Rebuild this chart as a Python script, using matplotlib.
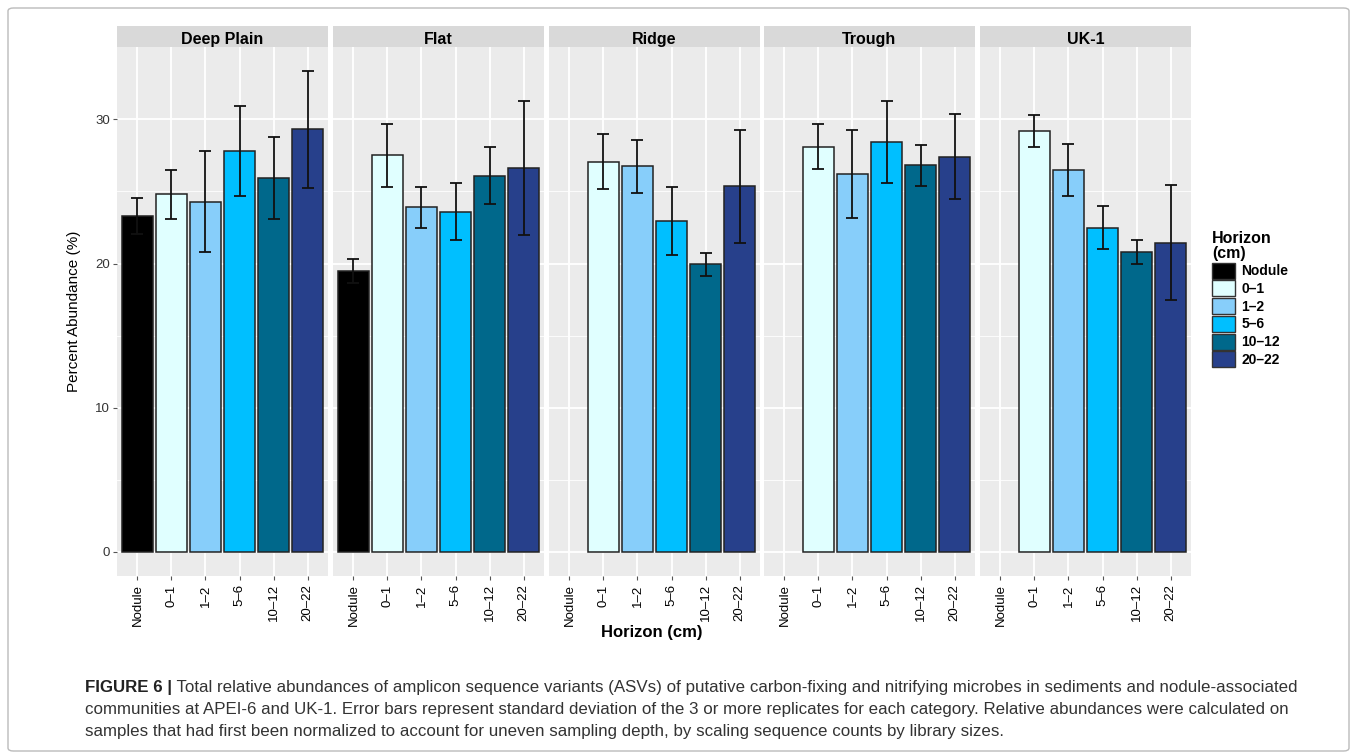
import matplotlib

matplotlib.use('Agg')

import matplotlib.pyplot as plt
import numpy as np
from matplotlib.patches import Patch, FancyBboxPatch
from matplotlib import font_manager

sites = ['Deep Plain', 'Flat', 'Ridge', 'Trough', 'UK-1']
horizons = ['Nodule', '0\u20131', '1\u20132', '5\u20136', '10\u201312', '20\u201322']
colors = ['#000000', '#E0FFFF', '#87CEFA', '#00BFFF', '#00688B', '#27408B']

# mean percent abundance per site, one value per horizon (nan = no sample)
means = {
    'Deep Plain': [23.3, 24.8, 24.3, 27.8, 25.95, 29.3],
    'Flat':       [19.5, 27.5, 23.9, 23.6, 26.1, 26.65],
    'Ridge':      [np.nan, 27.05, 26.75, 22.95, 19.95, 25.35],
    'Trough':     [np.nan, 28.1, 26.2, 28.45, 26.8, 27.4],
    'UK-1':       [np.nan, 29.2, 26.5, 22.5, 20.8, 21.45],
}
sds = {
    'Deep Plain': [1.25, 1.7, 3.5, 3.1, 2.85, 4.05],
    'Flat':       [0.85, 2.2, 1.4, 2.0, 2.0, 4.65],
    'Ridge':      [np.nan, 1.9, 1.85, 2.35, 0.8, 3.9],
    'Trough':     [np.nan, 1.55, 3.05, 2.85, 1.4, 2.95],
    'UK-1':       [np.nan, 1.1, 1.8, 1.47, 0.85, 4.0],
}

available = {f.name for f in font_manager.fontManager.ttflist}
sans = 'Liberation Sans' if 'Liberation Sans' in available else 'DejaVu Sans'
narrow = 'Liberation Sans Narrow' if 'Liberation Sans Narrow' in available else sans
plt.rcParams['font.family'] = [sans, 'DejaVu Sans']

W, H = 1357, 754
fig = plt.figure(figsize=(W / 100, H / 100), dpi=100)


def fx(px):
    return px / W


def fy(py):
    return 1 - py / H


# outer frame
fig.patches.append(FancyBboxPatch((fx(8), fy(751)), fx(1341), fy(8) - fy(751),
                                  boxstyle='round,pad=0,rounding_size=0.004',
                                  transform=fig.transFigure, fill=False,
                                  edgecolor='#BBBBBB', linewidth=1.0))

ymax = max(np.nanmax(np.array(means[s]) + np.array(sds[s])) for s in sites)
ylim = (-0.05 * ymax, 1.05 * ymax)

panel_left = [117, 333, 549, 764, 980]
panel_w = 211
top, bottom = 47, 576
x = np.arange(len(horizons))
col_arr = np.array(colors)

for i, site in enumerate(sites):
    ax = fig.add_axes([fx(panel_left[i]), fy(bottom), fx(panel_w), fy(top) - fy(bottom)])
    ax.set_facecolor('#EBEBEB')
    for sp in ax.spines.values():
        sp.set_visible(False)
    ax.set_xlim(-0.6, len(horizons) - 0.4)
    ax.set_ylim(*ylim)
    ax.set_yticks([0, 10, 20, 30])
    ax.set_yticks([5, 15, 25], minor=True)
    ax.grid(True, which='major', color='white', linewidth=1.3)
    ax.grid(True, which='minor', axis='y', color='white', linewidth=0.6)
    ax.set_axisbelow(True)
    m = np.array(means[site])
    s = np.array(sds[site])
    ok = ~np.isnan(m)
    ax.bar(x[ok], m[ok], width=0.9, color=col_arr[ok], edgecolor='#222222', linewidth=1.1)
    ax.errorbar(x[ok], m[ok], yerr=s[ok], fmt='none', ecolor='#111111', elinewidth=1.3,
                capsize=4, capthick=1.3)
    ax.set_xticks(x)
    ax.set_xticklabels(horizons, rotation=90, fontsize=9.5, fontfamily=narrow)
    ax.tick_params(axis='x', length=3, color='#555555', pad=3)
    ax.tick_params(axis='y', which='minor', length=0)
    if i == 0:
        ax.tick_params(axis='y', length=3, color='#555555', labelsize=9.5, pad=2,
                       labelcolor='#333333')
        ax.set_ylabel('Percent Abundance (%)', fontsize=11,
                      fontfamily=narrow, labelpad=10)
    else:
        ax.tick_params(axis='y', length=0, labelleft=False)

    sax = fig.add_axes([fx(panel_left[i]), fy(top), fx(panel_w), fy(26) - fy(top)])
    sax.set_facecolor('#D9D9D9')
    sax.set_xticks([])
    sax.set_yticks([])
    for sp in sax.spines.values():
        sp.set_visible(False)
    sax.text(0.5, 0.42, site, ha='center', va='center_baseline', fontsize=11.5,
             fontweight='bold', transform=sax.transAxes)

fig.text(fx(652), fy(632), 'Horizon (cm)', ha='center', va='center',
         fontsize=12, fontweight='bold')

handles = [Patch(facecolor=c, edgecolor='#333333', linewidth=1.0) for c in colors]
leg = fig.legend(handles, horizons, loc='upper left',
                 bbox_to_anchor=(fx(1212), fy(231)), frameon=False,
                 title='Horizon\n(cm)', alignment='left',
                 prop={'weight': 'bold', 'size': 10},
                 title_fontproperties={'weight': 'bold', 'size': 11.5},
                 handlelength=1.65, handleheight=1.4, labelspacing=0.12,
                 handletextpad=0.45, borderaxespad=0, borderpad=0)
leg.get_title().set_linespacing(1.0)

# caption
cap_size = 11.5
t0 = fig.text(fx(85), fy(692), 'FIGURE 6 |', fontsize=cap_size, fontweight='bold',
              fontfamily=narrow, va='baseline', color='#222222')
line1 = (' Total relative abundances of amplicon sequence variants (ASVs) of putative '
         'carbon-fixing and nitrifying microbes in sediments and nodule-associated')
t1 = fig.text(0, 0, line1, fontsize=cap_size, fontfamily=narrow, color='#333333',
              va='baseline')
fig.canvas.draw()
r = fig.canvas.get_renderer()
bb0 = t0.get_window_extent(r)
bb1 = t1.get_window_extent(r)
# fit caption width to the reference
scale = (1295 - 85) / (bb0.width + bb1.width)
cap_size2 = cap_size * scale
t1.set_fontsize(cap_size2)
t0.set_fontsize(cap_size2)
fig.canvas.draw()
bb0 = t0.get_window_extent(r)
t1.set_position((bb0.x1 / W, fy(692)))

line2 = ('communities at APEI-6 and UK-1. Error bars represent standard deviation of the 3 or '
         'more replicates for each category. Relative abundances were calculated on')
line3 = ('samples that had first been normalized to account for uneven sampling depth, by '
         'scaling sequence counts by library sizes.')
fig.text(fx(85), fy(714), line2, fontsize=cap_size2, fontfamily=narrow, color='#333333',
         va='baseline')
fig.text(fx(85), fy(736), line3, fontsize=cap_size2, fontfamily=narrow, color='#333333',
         va='baseline')

fig.savefig('out.png', dpi=100)
